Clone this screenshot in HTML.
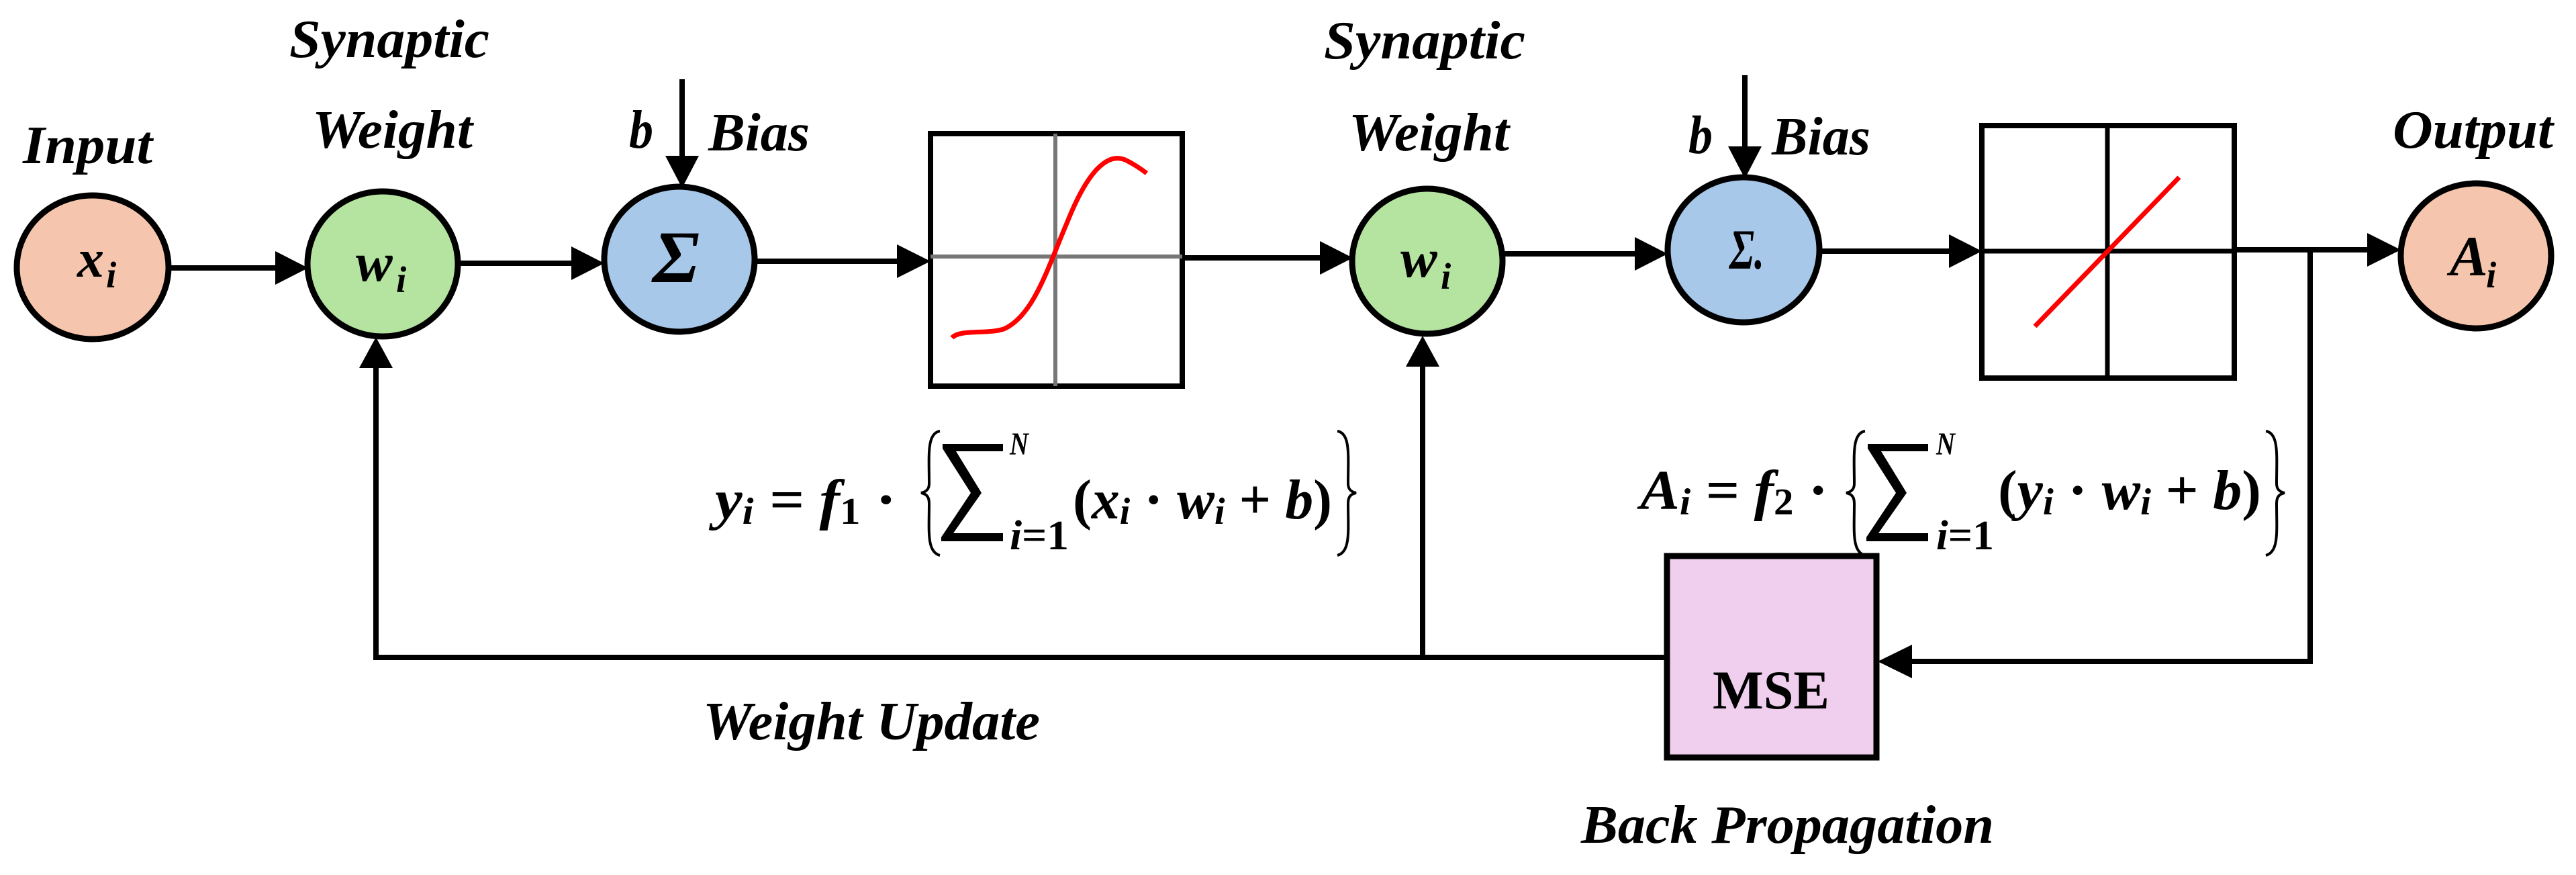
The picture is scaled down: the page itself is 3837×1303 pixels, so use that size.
<!DOCTYPE html>
<html><head><meta charset="utf-8"><style>
html,body{margin:0;padding:0;background:#fff;}
svg{display:block;}
text{font-family:'Liberation Serif','Times New Roman',serif;}
.lbl{font-weight:bold;font-style:italic;font-size:80px;}
.m{font-style:italic;font-weight:bold;}
.f{font-style:italic;font-weight:bold;}
</style></head><body>
<svg width="3837" height="1303" viewBox="0 0 3837 1303" xmlns="http://www.w3.org/2000/svg" font-family="Liberation Serif, serif">
<g stroke="#000" stroke-width="8" fill="none">
<line x1="251" y1="399" x2="420" y2="399"/>
<line x1="682" y1="392" x2="860" y2="392"/>
<line x1="1124" y1="389" x2="1345" y2="389"/>
<line x1="1761" y1="384" x2="1975" y2="384"/>
<line x1="2238" y1="378" x2="2444" y2="378"/>
<line x1="2710" y1="374" x2="2912" y2="374"/>
<line x1="3328" y1="372" x2="3530" y2="372"/>
<line x1="1016" y1="118" x2="1016" y2="240"/>
<line x1="2599" y1="112" x2="2599" y2="226"/>
<polyline points="2483,979 560,979 560,545"/>
<line x1="2119" y1="979" x2="2119" y2="540"/>
<polyline points="3328,372 3441,372 3441,985 2840,985"/>
</g>
<g fill="#000">
<polygon points="410,374 459,399 410,424"/>
<polygon points="851,367 900,392 851,417"/>
<polygon points="1336,364 1386,389 1336,414"/>
<polygon points="1966,359 2015,384 1966,409"/>
<polygon points="2435,353 2484,378 2435,403"/>
<polygon points="2903,349 2952,374 2903,399"/>
<polygon points="3526,347 3576,372 3526,397"/>
<polygon points="991,232 1041,232 1016,280"/>
<polygon points="2574,218 2624,218 2599,266"/>
<polygon points="535,548 585,548 560,502"/>
<polygon points="2094,546 2144,546 2119,500"/>
<polygon points="2848,960 2848,1010 2797,985"/>
</g>
<g stroke="#000" stroke-width="9">
<ellipse cx="138" cy="398" rx="113" ry="107" fill="#f5c6ad"/>
<ellipse cx="570" cy="393" rx="112" ry="108" fill="#b5e3a0"/>
<ellipse cx="1012" cy="386" rx="112" ry="108" fill="#a8c8ea"/>
<ellipse cx="2126" cy="389" rx="112" ry="108" fill="#b5e3a0"/>
<ellipse cx="2597" cy="372" rx="113" ry="108" fill="#a8c8ea"/>
<ellipse cx="3688" cy="381" rx="112" ry="108" fill="#f5c6ad"/>
<rect x="2483" y="828" width="312" height="300" fill="#f0cfee"/>
</g>
<rect x="1386" y="199" width="375" height="376" fill="none" stroke="#000" stroke-width="8"/>
<line x1="1572" y1="199" x2="1572" y2="575" stroke="#777" stroke-width="6"/>
<line x1="1386" y1="382" x2="1761" y2="382" stroke="#777" stroke-width="6"/>
<path d="M1418,503 C1430,490 1470,498 1495,490 C1540,470 1560,400 1590,330 C1620,255 1650,225 1678,239 C1690,245 1700,252 1708,258" fill="none" stroke="#f00" stroke-width="7"/>
<rect x="2952" y="187" width="376" height="376" fill="none" stroke="#000" stroke-width="8"/>
<line x1="3139" y1="187" x2="3139" y2="563" stroke="#000" stroke-width="7"/>
<line x1="2952" y1="374" x2="3328" y2="374" stroke="#000" stroke-width="7"/>
<line x1="3031" y1="486" x2="3246" y2="264" stroke="#f00" stroke-width="7"/>
<text class="lbl" font-family="Liberation Serif, serif" x="34" y="243" textLength="193" lengthAdjust="spacingAndGlyphs">Input</text>
<text class="lbl" font-family="Liberation Serif, serif" x="431" y="85" textLength="298" lengthAdjust="spacingAndGlyphs">Synaptic</text>
<text class="lbl" font-family="Liberation Serif, serif" x="465" y="220" textLength="239" lengthAdjust="spacingAndGlyphs">Weight</text>
<text class="lbl" font-family="Liberation Serif, serif" x="937" y="220" textLength="36" lengthAdjust="spacingAndGlyphs">b</text>
<text class="lbl" font-family="Liberation Serif, serif" x="1055" y="224" textLength="151" lengthAdjust="spacingAndGlyphs">Bias</text>
<text class="lbl" font-family="Liberation Serif, serif" x="1972" y="87" textLength="300" lengthAdjust="spacingAndGlyphs">Synaptic</text>
<text class="lbl" font-family="Liberation Serif, serif" x="2009" y="224" textLength="239" lengthAdjust="spacingAndGlyphs">Weight</text>
<text class="lbl" font-family="Liberation Serif, serif" x="2515" y="228" textLength="36" lengthAdjust="spacingAndGlyphs">b</text>
<text class="lbl" font-family="Liberation Serif, serif" x="2639" y="230" textLength="147" lengthAdjust="spacingAndGlyphs">Bias</text>
<text class="lbl" font-family="Liberation Serif, serif" x="3564" y="220" textLength="239" lengthAdjust="spacingAndGlyphs">Output</text>
<text class="lbl" font-family="Liberation Serif, serif" x="1047" y="1101" textLength="502" lengthAdjust="spacingAndGlyphs">Weight Update</text>
<text class="lbl" font-family="Liberation Serif, serif" x="2355" y="1255" textLength="615" lengthAdjust="spacingAndGlyphs">Back Propagation</text>
<text x="2551" y="1055" font-family="Liberation Serif, serif" font-weight="bold" font-size="82" textLength="174" lengthAdjust="spacingAndGlyphs">MSE</text>
<g font-family="Liberation Serif, serif">
<text class="m" x="115" y="412" font-size="80">x</text><text class="m" x="158" y="428" font-size="55">i</text>
<text class="m" x="530" y="418" font-size="82">w</text><text class="m" x="590" y="435" font-size="55">i</text>
<text class="m" x="972" y="420" font-size="110" textLength="70" lengthAdjust="spacingAndGlyphs">Σ</text>
<text class="m" x="2086" y="412" font-size="82">w</text><text class="m" x="2146" y="430" font-size="55">i</text>
<text class="m" x="2576" y="400" font-size="85" textLength="52" lengthAdjust="spacingAndGlyphs">Σ.</text>
<text class="m" x="3649" y="410" font-size="85">A</text><text class="m" x="3703" y="428" font-size="55">i</text>
</g>
<g class="f" fill="#000" font-family="Liberation Serif, serif">
<text x="1065" y="772" font-size="84" textLength="270" lengthAdjust="spacingAndGlyphs">y<tspan font-size="56" dy="8">i</tspan><tspan dy="-8"> = f</tspan><tspan font-size="56" dy="8" font-style="normal">1</tspan><tspan dy="-8" font-style="normal"> ·</tspan></text>
<text x="1565" y="677" font-size="48" textLength="28" lengthAdjust="spacingAndGlyphs" transform="translate(-61,0)">N</text>
<text x="1504" y="818" font-size="62" textLength="88" lengthAdjust="spacingAndGlyphs">i<tspan font-style="normal">=1</tspan></text>
<text x="1598" y="772" font-size="84" textLength="386" lengthAdjust="spacingAndGlyphs"><tspan font-style="normal">(</tspan>x<tspan font-size="56" dy="8">i</tspan><tspan dy="-8" font-style="normal"> · </tspan>w<tspan font-size="56" dy="8">i</tspan><tspan dy="-8" font-style="normal"> + </tspan>b<tspan font-style="normal">)</tspan></text>
<text x="2443" y="758" font-size="84" textLength="280" lengthAdjust="spacingAndGlyphs">A<tspan font-size="56" dy="8">i</tspan><tspan dy="-8"> = f</tspan><tspan font-size="56" dy="8" font-style="normal">2</tspan><tspan dy="-8" font-style="normal"> ·</tspan></text>
<text x="2884" y="677" font-size="48" textLength="28" lengthAdjust="spacingAndGlyphs">N</text>
<text x="2884" y="818" font-size="62" textLength="86" lengthAdjust="spacingAndGlyphs">i<tspan font-style="normal">=1</tspan></text>
<text x="2976" y="758" font-size="84" textLength="392" lengthAdjust="spacingAndGlyphs"><tspan font-style="normal">(</tspan>y<tspan font-size="56" dy="8">i</tspan><tspan dy="-8" font-style="normal"> · </tspan>w<tspan font-size="56" dy="8">i</tspan><tspan dy="-8" font-style="normal"> + </tspan>b<tspan font-style="normal">)</tspan></text>
</g>
<!-- big summation signs -->
<g fill="#000">
<path d="M1404,661 L1494,661 L1494,672 L1424,672 L1462,734 L1420,794 L1494,794 L1494,806 L1402,806 L1402,800 L1446,734 L1404,668 Z"/>
<path d="M2782,661 L2872,661 L2872,672 L2802,672 L2840,734 L2798,794 L2872,794 L2872,806 L2780,806 L2780,800 L2824,734 L2782,668 Z"/>
</g>
<g fill="none" stroke="#000" stroke-width="4">
<path d="M1400,642 C1380,645 1384,680 1384,720 C1384,726 1382,732 1372,734 C1382,736 1384,742 1384,750 C1384,790 1380,822 1400,827"/>
<path d="M1992,642 C2012,645 2008,680 2008,720 C2008,726 2010,732 2020,734 C2010,736 2008,742 2008,750 C2008,790 2012,822 1992,827"/>
<path d="M2778,642 C2758,645 2762,680 2762,720 C2762,726 2760,732 2750,734 C2760,736 2762,742 2762,750 C2762,790 2758,822 2778,827"/>
<path d="M3375,642 C3395,645 3391,680 3391,720 C3391,726 3393,732 3403,734 C3393,736 3391,742 3391,750 C3391,790 3395,822 3375,827"/>
</g>
</svg>
</body></html>
